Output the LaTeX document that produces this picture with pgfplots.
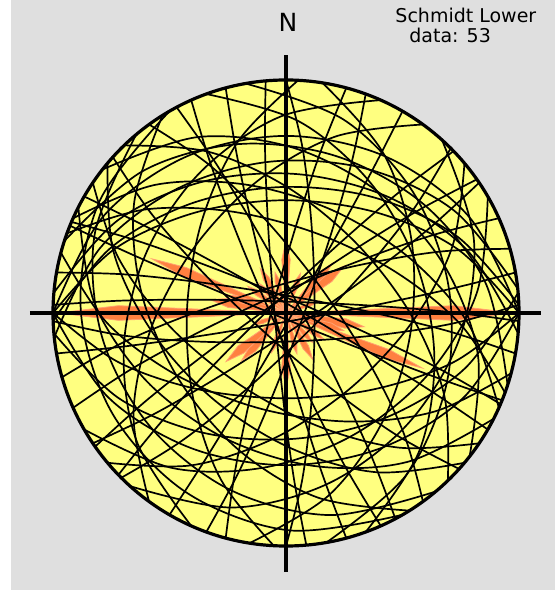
\documentclass[border=0pt]{standalone}
\usepackage{pgfplots}
\pgfplotsset{compat=1.18}
\usepackage{fontspec}
\setmainfont{DejaVu Sans}
\definecolor{bg}{RGB}{223,223,223}
\definecolor{net}{RGB}{255,255,128}
\definecolor{petal}{RGB}{255,128,64}
\begin{document}
\begin{tikzpicture}
\begin{axis}[scale only axis, width=277.5pt, height=295.5pt,
  xmin=-1.2275, xmax=1.1545, ymin=-1.1931, ymax=1.3433,
  hide axis, clip=false,
  gc/.style={black, line width=0.85pt, smooth, tension=0.55, data cs=polar, mark=none},
  pe/.style={fill=petal, draw=petal!75!white, line width=0.4pt, data cs=polar, mark=none}]
\fill[white] (rel axis cs:0,0) rectangle (rel axis cs:1,1);
\fill[bg] (axis cs:-1.180,-1.189) rectangle (rel axis cs:1,1);
\fill[net] (axis cs:0,0) circle[radius=1];
% rose petals (math angle, length)
\addplot[pe] coordinates {(0,0) (85.5,0.23) (90,0.31) (94.5,0.23)} -- cycle;
\addplot[pe] coordinates {(0,0) (-85.5,0.24) (-90,0.32) (-94.5,0.24)} -- cycle;
\addplot[pe] coordinates {(0,0) (65.5,0.14) (70,0.18) (74.5,0.14)} -- cycle;
\addplot[pe] coordinates {(0,0) (-105.5,0.14) (-110,0.18) (-114.5,0.14)} -- cycle;
\addplot[pe] coordinates {(0,0) (42.5,0.22) (47,0.29) (51.5,0.22)} -- cycle;
\addplot[pe] coordinates {(0,0) (-128.5,0.21) (-133,0.28) (-137.5,0.21)} -- cycle;
\addplot[pe] coordinates {(0,0) (34.5,0.24) (39,0.32) (43.5,0.24)} -- cycle;
\addplot[pe] coordinates {(0,0) (-136.5,0.25) (-141,0.33) (-145.5,0.25)} -- cycle;
\addplot[pe] coordinates {(0,0) (15.5,0.11) (20,0.15) (24.5,0.11)} -- cycle;
\addplot[pe] coordinates {(0,0) (-155.5,0.11) (-160,0.15) (-164.5,0.11)} -- cycle;
\addplot[pe] coordinates {(0,0) (-2.5,0.72) (0,0.98) (2.5,0.72)} -- cycle;
\addplot[pe] coordinates {(0,0) (177.5,0.72) (180,0.98) (182.5,0.72)} -- cycle;
\addplot[pe] coordinates {(0,0) (-14.5,0.26) (-10,0.34) (-5.5,0.26)} -- cycle;
\addplot[pe] coordinates {(0,0) (165.5,0.25) (170,0.33) (174.5,0.25)} -- cycle;
\addplot[pe] coordinates {(0,0) (-21.5,0.2) (-17,0.26) (-12.5,0.2)} -- cycle;
\addplot[pe] coordinates {(0,0) (158.5,0.2) (163,0.26) (167.5,0.2)} -- cycle;
\addplot[pe] coordinates {(0,0) (-24.5,0.47) (-22,0.63) (-19.5,0.47)} -- cycle;
\addplot[pe] coordinates {(0,0) (155.5,0.47) (158,0.62) (160.5,0.47)} -- cycle;
\addplot[pe] coordinates {(0,0) (-39.5,0.15) (-35,0.2) (-30.5,0.15)} -- cycle;
\addplot[pe] coordinates {(0,0) (140.5,0.15) (145,0.2) (149.5,0.15)} -- cycle;
\addplot[pe] coordinates {(0,0) (-52.5,0.13) (-48,0.17) (-43.5,0.13)} -- cycle;
\addplot[pe] coordinates {(0,0) (127.5,0.13) (132,0.17) (136.5,0.13)} -- cycle;
\addplot[pe] coordinates {(0,0) (-64.5,0.17) (-60,0.23) (-55.5,0.17)} -- cycle;
\addplot[pe] coordinates {(0,0) (115.5,0.17) (120,0.22) (124.5,0.17)} -- cycle;
\addplot[pe] coordinates {(0,0) (-79.5,0.14) (-75,0.18) (-70.5,0.14)} -- cycle;
\addplot[pe] coordinates {(0,0) (100.5,0.14) (105,0.18) (109.5,0.14)} -- cycle;
% great circles (math angle, equal-area radius)
\addplot[gc] coordinates {(180,1) (0,1)};
\addplot[gc] coordinates {(180,1) (152.4,.888) (122.5,.796) (90,.760) (57.5,.796) (27.6,.888) (0,1)};
\addplot[gc] coordinates {(0,1) (-25.3,.845) (-54.8,.709) (-90,.653) (-125.2,.709) (-154.7,.845) (-180,1)};
\addplot[gc] coordinates {(180,1) (159.6,.786) (131.9,.580) (90,.484) (48.1,.580) (20.4,.786) (0,1)};
\addplot[gc] coordinates {(178,1) (175.7,.708) (171.1,.369) (88,.049) (4.9,.369) (0.3,.708) (-2,1)};
\addplot[gc] coordinates {(2,1) (-3.7,.713) (-14.7,.384) (-88,.123) (-161.3,.384) (-172.3,.713) (-178,1)};
\addplot[gc] coordinates {(0,1) (-16.1,.753) (-40.9,.500) (-90,.366) (-139.1,.500) (-163.9,.753) (-180,1)};
\addplot[gc] coordinates {(5,1) (-17.2,.804) (-45.8,.623) (-85,.541) (-124.2,.623) (-152.8,.804) (-175,1)};
\addplot[gc] coordinates {(175,1) (151.1,.824) (122,.666) (85,.598) (48,.666) (18.9,.824) (-5,1)};
\addplot[gc] coordinates {(170,1) (166.5,.709) (159.7,.372) (80,.074) (0.3,.372) (-6.5,.709) (-10,1)};
\addplot[gc] coordinates {(-15,1) (-33.3,.768) (-59.8,.539) (-105,.425) (-150.2,.539) (-176.7,.768) (-195,1)};
\addplot[gc] coordinates {(162,1) (135.4,.866) (105.7,.753) (72,.707) (38.3,.753) (8.6,.866) (-18,1)};
\addplot[gc] coordinates {(-22,1) (-23.2,.707) (-25.5,.367) (-112,.025) (-198.5,.367) (-200.8,.707) (-202,1)};
\addplot[gc] coordinates {(157,1) (154.1,.709) (148.4,.371) (67,.062) (-14.4,.371) (-20.1,.709) (-23,1)};
\addplot[gc] coordinates {(156,1) (135.6,.786) (107.9,.580) (66,.484) (24.1,.580) (-3.6,.786) (-24,1)};
\addplot[gc] coordinates {(-27,1) (-50.9,.824) (-80,.666) (-117,.598) (-154,.666) (-183.1,.824) (-207,1)};
\addplot[gc] coordinates {(150,1) (148.3,.707) (144.8,.368) (60,.037) (-24.8,.368) (-28.3,.707) (-30,1)};
\addplot[gc] coordinates {(-34,1) (-50.1,.753) (-74.9,.5) (-124,.366) (-173.1,.5) (-197.9,.753) (-214,1)};
\addplot[gc] coordinates {(142,1) (116.7,.845) (87.2,.709) (52,.653) (16.8,.709) (-12.7,.845) (-38,1)};
\addplot[gc] coordinates {(-42,1) (-47.7,.713) (-58.7,.384) (-132,.123) (-205.3,.384) (-216.3,.713) (-222,1)};
\addplot[gc] coordinates {(134,1) (115.7,.768) (89.2,.539) (44,.425) (-1.2,.539) (-27.7,.768) (-46,1)};
\addplot[gc] coordinates {(-50,1) (-77.6,.888) (-107.5,.796) (-140,.760) (-172.5,.796) (-202.4,.888) (-230,1)};
\addplot[gc] coordinates {(126,1) (117.5,.719) (101.9,.404) (36,.185) (-29.9,.404) (-45.5,.719) (-54,1)};
\addplot[gc] coordinates {(-58,1) (-80.2,.804) (-108.8,.623) (-148,.541) (-187.2,.623) (-215.8,.804) (-238,1)};
\addplot[gc] coordinates {(118,1) (115.1,.709) (109.4,.371) (28,.062) (-53.4,.371) (-59.1,.709) (-62,1)};
\addplot[gc] coordinates {(-66,1) (-68.9,.709) (-74.6,.371) (-156,.062) (-237.4,.371) (-243.1,.709) (-246,1)};
\addplot[gc] coordinates {(110,1) (86.1,.824) (57,.666) (20,.598) (-17,.666) (-46.1,.824) (-70,1)};
\addplot[gc] coordinates {(-75,1) (-77.3,.708) (-81.9,.369) (-165,.049) (-248.1,.369) (-252.7,.708) (-255,1)};
\addplot[gc] coordinates {(100,1) (73.4,.866) (43.7,.753) (10,.707) (-23.7,.753) (-53.4,.866) (-80,1)};
\addplot[gc] coordinates {(-85,1) (-87.3,.708) (-91.9,.369) (-175,.049) (-258.1,.369) (-262.7,.708) (-265,1)};
\addplot[gc] coordinates {(90,1) (84.3,.713) (73.3,.384) (0,.123) (-73.3,.384) (-84.3,.713) (-90,1)};
\addplot[gc] coordinates {(-93,1) (-111.3,.768) (-137.8,.539) (-183,.425) (-228.2,.539) (-254.7,.768) (-273,1)};
\addplot[gc] coordinates {(81,1) (58.8,.804) (30.2,.623) (-9,.541) (-48.2,.623) (-76.8,.804) (-99,1)};
\addplot[gc] coordinates {(-105,1) (-107.9,.709) (-113.6,.371) (-195,.062) (-276.4,.371) (-282.1,.709) (-285,1)};
\addplot[gc] coordinates {(70,1) (66.5,.709) (59.7,.372) (-20,.074) (-99.7,.372) (-106.5,.709) (-110,1)};
\addplot[gc] coordinates {(-114,1) (-139.3,.845) (-168.8,.709) (-204,.653) (-239.2,.709) (-268.7,.845) (-294,1)};
\addplot[gc] coordinates {(60,1) (58.8,.707) (56.5,.367) (-30,.025) (-116.5,.367) (-118.8,.707) (-120,1)};
\addplot[gc] coordinates {(-126,1) (-146.4,.786) (-174.1,.580) (-216,.484) (-257.9,.580) (-285.6,.786) (-306,1)};
\addplot[gc] coordinates {(48,1) (21.4,.866) (-8.3,.753) (-42,.707) (-75.7,.753) (-105.4,.866) (-132,1)};
\addplot[gc] coordinates {(-136,1) (-138.9,.709) (-144.6,.371) (-226,.062) (-307.4,.371) (-313.1,.709) (-316,1)};
\addplot[gc] coordinates {(40,1) (21.7,.768) (-4.8,.539) (-50,.425) (-95.2,.539) (-121.7,.768) (-140,1)};
\addplot[gc] coordinates {(-145,1) (-147.9,.709) (-153.6,.371) (-235,.062) (-316.4,.371) (-322.1,.709) (-325,1)};
\addplot[gc] coordinates {(30,1) (6.1,.824) (-23,.666) (-60,.598) (-97,.666) (-126.1,.824) (-150,1)};
\addplot[gc] coordinates {(-156,1) (-160,.710) (-167.9,.375) (-246,.087) (-324.1,.375) (-332,.710) (-336,1)};
\addplot[gc] coordinates {(-60,1) (-89.1,.933) (-119.1,.881) (-150,.861) (-180.9,.881) (-210.9,.933) (-240,1)};
\addplot[gc] coordinates {(-164,1) (-169.7,.713) (-180.7,.384) (-254,.123) (-327.3,.384) (-338.3,.713) (-344,1)};
\addplot[gc] coordinates {(10,1) (8.3,.707) (4.8,.368) (-80,.037) (-164.8,.368) (-168.3,.707) (-170,1)};
\addplot[gc] coordinates {(-174,1) (-199.3,.845) (-228.8,.709) (-264,.653) (-299.2,.709) (-328.7,.845) (-354,1)};
\addplot[gc] coordinates {(45,1) (39.3,.713) (28.3,.384) (-45,.123) (-118.3,.384) (-129.3,.713) (-135,1)};
\addplot[gc] coordinates {(-40,1) (-60.4,.786) (-88.1,.58) (-130,.484) (-171.9,.58) (-199.6,.786) (-220,1)};
\addplot[gc] coordinates {(160,1) (143.9,.753) (119.1,.5) (70,.366) (20.9,.5) (-3.9,.753) (-20,1)};
\addplot[gc] coordinates {(34,1) (30.5,.709) (23.7,.372) (-56,.074) (-135.7,.372) (-142.5,.709) (-146,1)};
\addplot[gc] coordinates {(-178,1) (-200.2,.804) (-228.8,.623) (-268,.541) (-307.2,.623) (-335.8,.804) (-358,1)};
% frame of the net
\draw[black, line width=1.6pt] (axis cs:0,0) circle[radius=1];
\draw[black, line width=1.7pt] (axis cs:0,-1.112) -- (axis cs:0,1.107);
\draw[black, line width=1.7pt] (axis cs:-1.099,0) -- (axis cs:1.094,0);
\node[anchor=base, font=\fontsize{12.5}{14}\selectfont] at (axis cs:0.009,1.206) {N};
\node[anchor=base west, inner sep=0pt, font=\fontsize{9.5}{11}\selectfont] at (axis cs:0.468,1.245) {Schmidt Lower};
\node[anchor=base west, inner sep=0pt, font=\fontsize{9.5}{11}\selectfont] at (axis cs:0.528,1.159) {data: 53};
\end{axis}
\end{tikzpicture}
\end{document}
